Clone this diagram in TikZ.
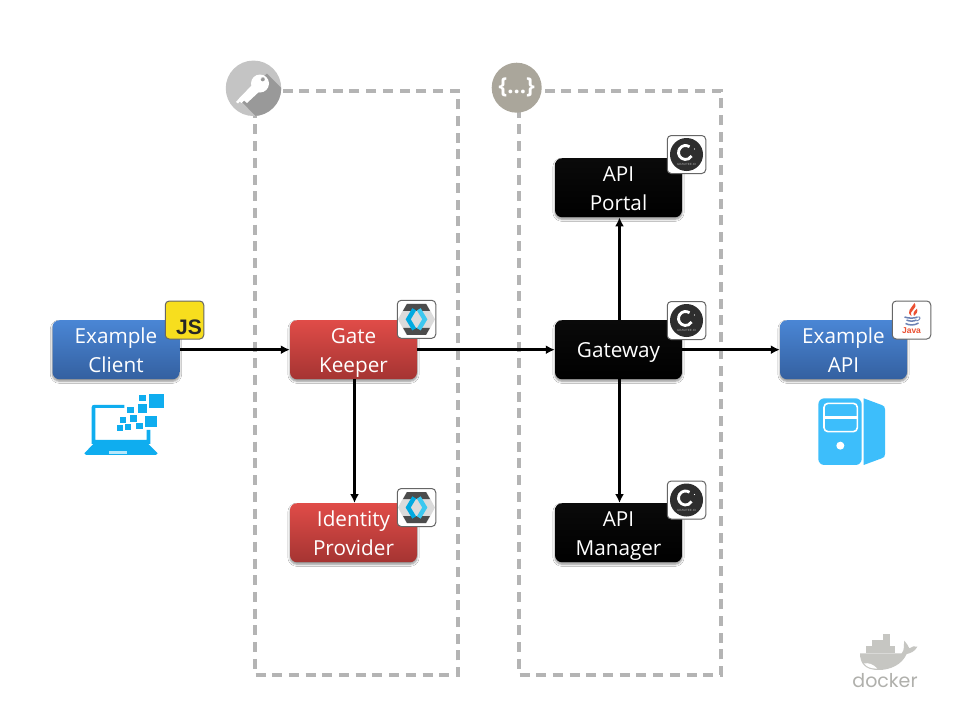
\documentclass[tikz,border=0pt]{standalone}
\usepackage{fontspec}
\setmainfont{Open Sans}
\newfontfamily\dockerfont{Poppins}
\newfontfamily\badgefont{Liberation Sans}
\usetikzlibrary{arrows.meta,shadows.blur}
\newcommand{\linestrut}{\rule[-6.7pt]{0pt}{29pt}}
\definecolor{dashgrey}{HTML}{B4B4B4}
\definecolor{iconblue}{HTML}{0FADEF}
\definecolor{srvblue}{HTML}{3DBEFB}
\definecolor{dockergrey}{HTML}{C6C6C2}
\definecolor{bluetop}{HTML}{4A86D5}
\definecolor{bluebot}{HTML}{3460A0}
\definecolor{redtop}{HTML}{E04C48}
\definecolor{redbot}{HTML}{A53432}
\definecolor{blacktop}{HTML}{0A0A0A}
\definecolor{keylight}{HTML}{C4C4C4}
\definecolor{keydark}{HTML}{999999}
\definecolor{bracegrey}{HTML}{AAA69B}
\definecolor{jsyellow}{HTML}{F7DE1E}
\definecolor{kcblue}{HTML}{00AAE1}
\definecolor{kcblueb}{HTML}{3CC8F0}
\definecolor{javared}{HTML}{EB5032}
\definecolor{javablue}{HTML}{6C82B4}
\definecolor{dockertext}{HTML}{B0B0AC}
\tikzset{
  boxbase/.style={rounded corners=7pt,minimum width=127pt,minimum height=59pt,inner sep=0pt,
    align=center,text=white,font=\fontsize{20.7}{29}\selectfont,
    blur shadow={shadow blur steps=6,shadow xshift=0pt,shadow yshift=-2pt,shadow blur extra rounding=1pt,shadow opacity=45}},
  bluebox/.style={boxbase,top color=bluetop,bottom color=bluebot},
  redbox/.style={boxbase,top color=redtop,bottom color=redbot},
  blackbox/.style={boxbase,top color=blacktop,bottom color=black},
  zonebox/.style={draw=dashgrey,line width=3.2pt,dash pattern=on 10pt off 6.7pt},
  link/.style={draw=black,line width=2.7pt,-{Latex[length=9pt,width=9pt]}},
  badge/.style={draw=black!60,line width=1pt,rounded corners=4pt,minimum width=38.5pt,minimum height=38pt,inner sep=0pt},
}
\begin{document}
\begin{tikzpicture}[x=1pt,y=-1pt]
\useasboundingbox (0,0) rectangle (960,720);
\fill[white] (0,0) rectangle (960,720);

% zones
\draw[zonebox] (255,91) rectangle (458,675);
\draw[zonebox] (519,91) rectangle (721,675);

% key circle
\node[circle,fill=keylight,minimum size=55.5pt,inner sep=0pt] (keycircle) at (253.5,88.3) {};
\begin{scope}
  \clip (253.5,88.3) circle (27.7pt);
  \fill[keydark] (240,100) -- (267,73.5) -- (300,107) -- (273,134) -- cycle;
\end{scope}
\fill[white,even odd rule] (260,83.5) circle (9pt) (262.7,79.3) circle (2.2pt);
\fill[white] (254,83) -- (261,90) -- (247,103) -- (244,100.5) -- (241.5,103) -- (239.5,101.5) -- (238,103.5)-- (236,102) -- (239,98.5) -- cycle;

% braces circle
\node[circle,fill=bracegrey,minimum size=50pt,inner sep=0pt,text=white,
  font=\fontsize{22}{22}\selectfont\bfseries] (bracecircle) at (516.7,87.7) {\{...\}};

% main boxes
\node[bluebox] (client) at (116,349.7) {\linestrut Example\\\linestrut Client};
\node[redbox] (gate) at (353.5,349.7) {\linestrut Gate\\\linestrut Keeper};
\node[redbox] (idp) at (353.5,532.7) {\linestrut Identity\\\linestrut Provider};
\node[blackbox] (gateway) at (618.5,349.7) {\linestrut Gateway};
\node[blackbox] (portal) at (618.5,187.7) {\linestrut API\\\linestrut Portal};
\node[blackbox] (manager) at (618.5,532.7) {\linestrut API\\\linestrut Manager};
\node[bluebox] (api) at (843.5,349.7) {\linestrut Example\\\linestrut API};

% connectors
\draw[link] (client) -- (gate);
\draw[link] (gate) -- (gateway);
\draw[link] (gateway) -- (api);
\draw[link] ([xshift=1pt]gateway.north) -- ([xshift=1pt]portal.south);
\draw[link] ([xshift=1pt]gateway.south) -- ([xshift=1pt]manager.north);
\draw[link] ([xshift=1pt]gate.south) -- ([xshift=1pt]idp.north);

% JS badge
\node[badge,fill=jsyellow] (jsbadge) at (184.5,320) {};
\node[text=black!85,font=\fontsize{21}{21}\selectfont\badgefont\bfseries,inner sep=0pt] (jstext) at (189,327) {JS};

% Keycloak badges
\foreach \nm/\cx/\cy in {kc1/416.5/319.3, kc2/416.5/507.5}{
  \node[badge,fill=white] (\nm) at (\cx,\cy) {};
  \begin{scope}[shift={(\cx,\cy)}]
    \fill[black!14] (-18.5,0) -- (-10,-15.5) -- (10,-15.5) -- (18.5,0) -- (10,15.5) -- (-10,15.5) -- cycle;
    \fill[black!70] (-9.5,-15.5) -- (9.5,-15.5) -- (13.5,-8.5) -- (-13.5,-8.5) -- cycle;
    \fill[black!70] (-9.5,15.5) -- (9.5,15.5) -- (13.5,8.5) -- (-13.5,8.5) -- cycle;
    \draw[line width=4.4pt,color=kcblue] (-2.3,-10) -- (-8.3,0) -- (-2.3,10);
    \draw[line width=4.4pt,color=kcblueb] (2.3,-10) -- (8.3,0) -- (2.3,10);
  \end{scope}
}

% Gravitee badges
\foreach \nm/\cx/\cy in {gr1/686.5/154.5, gr2/686.5/320.5, gr3/686.5/500}{
  \node[badge,fill=white] (\nm) at (\cx,\cy) {};
  \begin{scope}[shift={(\cx,\cy)}]
    \fill[black!82] (0,0) circle (16.5pt);
    \draw[white,line width=2.8pt] (-1,-2) ++(55:7pt) arc[start angle=55,end angle=330,radius=7pt];
    \fill[white] (8,-5.5) circle (.6pt);
    \node[white!65!black,font=\fontsize{3}{3}\selectfont\badgefont] (gt\nm) at (0,10) {GRAVITEE.IO};
  \end{scope}
}

% Java badge
\node[badge,fill=white] (javabadge) at (911.5,320) {};
\begin{scope}[shift={(911.5,320)}]
  \fill[javared] (3,-17) .. controls (7,-11) and (-3,-10) .. (0,-4) .. controls (-6,-8) and (0,-12) .. (3,-17) -- cycle;
  \fill[javared] (5.5,-11.5) .. controls (3,-9) and (1,-7.5) .. (2.5,-4) .. controls (5,-6) and (6.5,-8) .. (5.5,-11.5) -- cycle;
  \draw[javablue,line width=1.5pt] (-7,-3) .. controls (-3,-1.5) and (3,-1.5) .. (6,-3);
  \draw[javablue,line width=1.5pt] (-5,0) .. controls (-2,1.5) and (2,1.5) .. (5,0);
  \draw[javablue,line width=1.5pt] (-6,3.5) .. controls (-2,5.5) and (3,5.5) .. (7,3);
  \draw[javablue,line width=.9pt] (6,-3) .. controls (10,-4) and (9,0) .. (5,1);
  \node[text=javared,font=\fontsize{8.5}{9}\selectfont\badgefont\bfseries,inner sep=0pt] (javatext) at (0,10.5) {Java};
\end{scope}

% laptop icon
\begin{scope}[shift={(30,290)},x=.3333pt,y=-.3333pt]
  \fill[iconblue] (163,490) -- (190,462) -- (185,462) -- (185,352) .. controls (185,347) and (188,345) .. (192,345) -- (283,345) -- (283,354) -- (196,354) -- (196,450) -- (350,450) -- (350,420) -- (361,420) -- (361,462) -- (355,462) -- (383,490) -- (378,495) -- (168,495) -- cycle;
  \fill[white!70!iconblue] (238,483) rectangle (292,492);
  \foreach \a/\b/\c/\d in {358/312/402/355,328/315/348/333,323/342/352/370,292/350/312/370,345/377/380/410,300/375/320/395,270/382/288/398,318/398/338/416,285/402/303/420,260/405/278/422}{
    \fill[iconblue] (\a,\b) rectangle (\c,\d);
  }
\end{scope}

% server icon
\begin{scope}[shift={(770,290)},x=.3333pt,y=-.3333pt]
  \fill[srvblue,rounded corners=6pt] (145,325) rectangle (275,525);
  \fill[srvblue] (281,325) -- (335,345) .. controls (342,348) and (345,350) .. (345,358) -- (345,492) .. controls (345,500) and (342,503) .. (335,505) -- (281,525) -- cycle;
  \draw[white,line width=1.6pt,rounded corners=4pt] (162,340) rectangle (262,425);
  \fill[white] (162,379) rectangle (262,386);
  \fill[white] (211,467) circle (4pt);
\end{scope}

% docker logo
\begin{scope}[shift={(840,620)},x=.3333pt,y=-.3333pt]
  \fill[dockergrey] (130,42) rectangle (150,60);
  \fill[dockergrey] (96,60) rectangle (150,78);
  \fill[dockergrey] (78,78) rectangle (165,98);
  \fill[dockergrey] (60,100) -- (185,100) .. controls (195,90) and (190,75) .. (193,62) .. controls (200,70) and (205,78) .. (208,85) .. controls (215,78) and (225,78) .. (232,80) .. controls (225,95) and (210,100) .. (200,102) .. controls (185,135) and (150,150) .. (115,150) .. controls (75,150) and (60,130) .. (60,100) -- cycle;
  \fill[white] (72,130) .. controls (85,128) and (100,132) .. (112,146) .. controls (95,146) and (80,142) .. (72,130) -- cycle;
  \node[text=dockertext,font=\fontsize{19}{19}\selectfont\dockerfont,inner sep=0pt] (dockerlabel) at (135,181) {docker};
\end{scope}
\end{tikzpicture}
\end{document}
